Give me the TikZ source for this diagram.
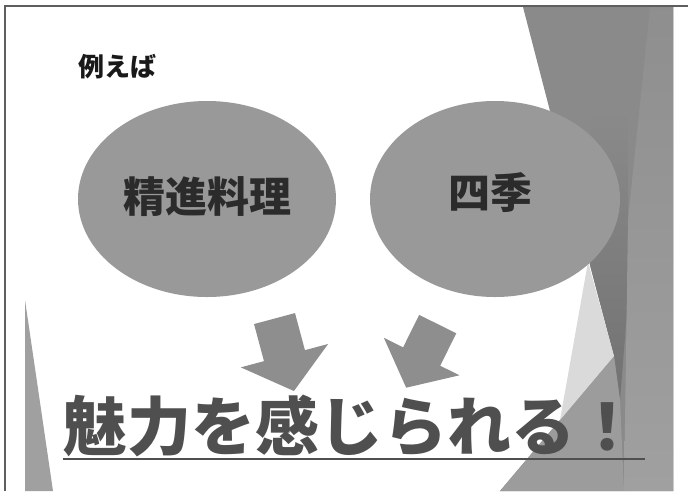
\documentclass[tikz,border=0pt]{standalone}
\usepackage{fontspec}
\usepackage{xcolor}
\usetikzlibrary{shapes.geometric, shapes.arrows}

\newfontfamily\jpfont{Noto Sans CJK JP}

\definecolor{framegray}{HTML}{5E5E5E}
\definecolor{curtain}{HTML}{8A8A8A}
\definecolor{curtaindark}{HTML}{727272}
\definecolor{curtainlight}{HTML}{A0A0A0}
\definecolor{curtainmid}{HTML}{9C9C9C}
\definecolor{curtainpale}{HTML}{DADADA}
\definecolor{bubblegray}{HTML}{999999}
\definecolor{arrowgray}{HTML}{8E8E8E}
\definecolor{inktext}{HTML}{2B2B2B}
\definecolor{headline}{HTML}{4F4F4F}

\begin{document}
\begin{tikzpicture}[
        x=1pt, y=-1pt,
        every node/.style={inner sep=0pt, font=\jpfont\bfseries},
        bubble/.style={ellipse, fill=bubblegray, minimum width=258pt, minimum height=196pt},
        bubbletext/.style={text=inktext, font=\jpfont\bfseries\fontsize{42}{46}\selectfont},
        bigarrow/.style={single arrow, fill=arrowgray, inner xsep=0pt, single arrow head indent=0pt},
        slogan/.style={text=headline, font=\jpfont\bfseries\fontsize{64}{70}\selectfont}
    ]

    % Page
    \useasboundingbox (0,0) rectangle (688,491);
    \fill[white] (0,0) rectangle (688,491);

    % Left wedge
    \fill[curtainlight] (25,300) -- (25,491) -- (53,491) -- cycle;

    % Right curtain
    \fill[curtain] (523,7) -- (673,7) -- (673,491) -- (500,491) -- (614,356) -- (590,265) -- cycle;
    \shade[top color=curtain, bottom color=curtaindark] (590,110) -- (628,110) -- (628,300) -- (620,400) -- (614,356) -- (590,265) -- cycle;
    \shade[top color=curtain!80!curtainlight, bottom color=curtainlight] (650,7) -- (673,7) -- (673,491) -- (624,491) -- (628,220) -- cycle;
    \fill[curtainmid] (500,491) -- (614,356) -- (620,400) -- (624,491) -- cycle;
    \fill[curtainpale] (588,262) -- (614,356) -- (560,420) -- cycle;
    \draw[black!20, line width=1pt] (673.5,7) -- (673.5,491);

    % Frame
    \draw[framegray, line width=1.5pt] (688,6) -- (5,6) -- (5,491);

    % Heading
    \node[text=black!90, font=\jpfont\bfseries\fontsize{26}{30}\selectfont] (rei) at (117,67) {例えば};

    % Ellipses
    \node[bubble] (shojin) at (207,199) {};
    \node[bubbletext] (shojintxt) at (207,197) {精進料理};
    \node[bubble, minimum width=250pt] (shiki) at (495,199) {};
    \node[bubbletext] (shikitxt) at (490,193) {四季};

    % Block arrows
    \node[bigarrow, inner ysep=21pt, minimum height=75pt, single arrow head extend=24pt,
        single arrow tip angle=102, rotate=-75] (arrL) at (282,346.5) {};
    \node[bigarrow, inner ysep=20.5pt, minimum height=71pt, single arrow head extend=21.5pt,
        single arrow tip angle=101, rotate=-116.4] (arrR) at (425.75,348.25) {};

    % Slogan
    \node[slogan] (slogan) at (351,425.5) {魅力を感じられる！};
    \coordinate (ulA) at (63,459);
    \coordinate (ulB) at (645,459);
    \draw[headline, line width=1.8pt] (ulA) -- (ulB);

\end{tikzpicture}
\end{document}
